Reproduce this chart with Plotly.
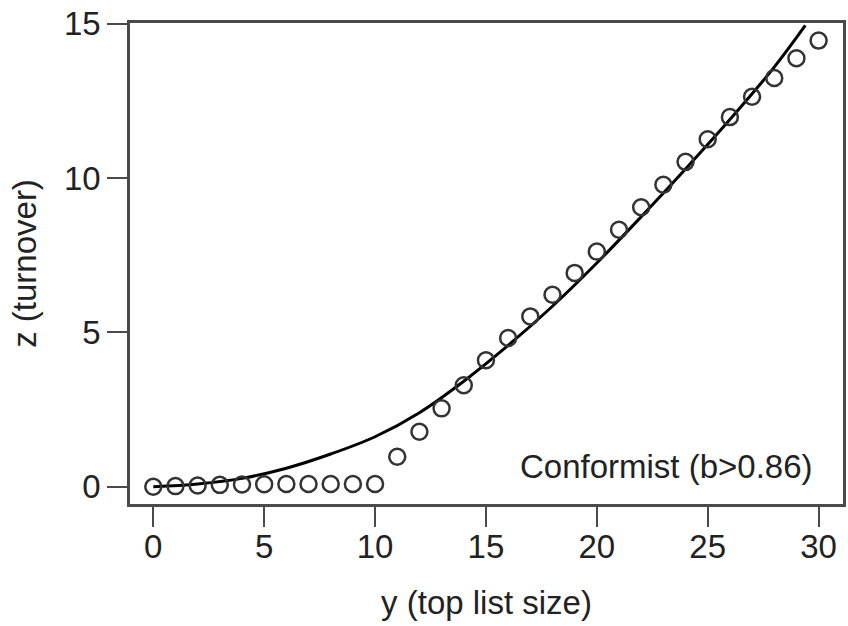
import plotly.graph_objects as go

# Observed data (open circles)
y_size = list(range(0, 31))
z_turnover = [0.0, 0.02, 0.04, 0.06, 0.07, 0.08, 0.09, 0.09, 0.09, 0.09, 0.09,
              0.97, 1.78, 2.54, 3.29, 4.1, 4.82, 5.52, 6.22, 6.93, 7.62,
              8.33, 9.06, 9.79, 10.53, 11.26, 11.98, 12.64, 13.25, 13.89, 14.46]

# Fitted curve
fit_x = [0, 2, 4, 6, 8, 10, 12, 14, 16, 18, 20, 22, 24, 26, 28, 29.4]
fit_z = [0.0, 0.09, 0.27, 0.6, 1.06, 1.62, 2.4, 3.42, 4.58, 5.85, 7.25, 8.75, 10.3, 11.9, 13.6, 14.95]

x_ticks = [0, 5, 10, 15, 20, 25, 30]
y_ticks = [0, 5, 10, 15]

FONT = "Liberation Sans, Arial, Helvetica, sans-serif"
AX = "#4a4a4a"
TXT = "#222222"
FS = 33

fig = go.Figure()
fig.add_trace(go.Scatter(
    x=fit_x, y=fit_z, mode="lines",
    line=dict(color="black", width=3, shape="spline"),
    showlegend=False, hoverinfo="skip"))
fig.add_trace(go.Scatter(
    x=y_size, y=z_turnover, mode="markers",
    marker=dict(symbol="circle-open", size=16, color="#333333", line=dict(width=2.5, color="#333333")),
    showlegend=False))

fig.add_annotation(x=29.85, y=0.64, xref="x", yref="y", text="Conformist (b>0.86)",
                   showarrow=False, xanchor="right", yanchor="middle",
                   font=dict(family=FONT, size=FS, color=TXT))

fig.update_layout(
    width=848, height=626,
    margin=dict(l=130, r=2, t=23, b=122),
    plot_bgcolor="white", paper_bgcolor="white",
    font=dict(family=FONT, size=FS, color=TXT),
)
fig.update_xaxes(
    range=[-1.05, 31.1], tickvals=x_ticks, ticktext=[str(v) for v in x_ticks],
    showgrid=False, zeroline=False, showline=True, mirror=True,
    linecolor=AX, linewidth=2.5, ticks="outside", ticklen=20, tickwidth=2, tickcolor=AX,
    ticklabelstandoff=-8,
    tickfont=dict(size=FS, family=FONT, color=TXT),
    title=dict(text="y (top list size)", font=dict(size=FS, family=FONT, color=TXT), standoff=27),
)
fig.update_yaxes(
    range=[-0.56, 15.03], tickvals=y_ticks, ticktext=[str(v) for v in y_ticks],
    showgrid=False, zeroline=False, showline=True, mirror=True,
    linecolor=AX, linewidth=2.5, ticks="outside", ticklen=20, tickwidth=2, tickcolor=AX,
    tickfont=dict(size=FS, family=FONT, color=TXT),
    title=dict(text="z (turnover)", font=dict(size=FS, family=FONT, color=TXT), standoff=18),
)

fig.write_html("out.html", config={"displayModeBar": False},
               post_script="document.body.style.margin='0';document.body.style.overflow='hidden';")
